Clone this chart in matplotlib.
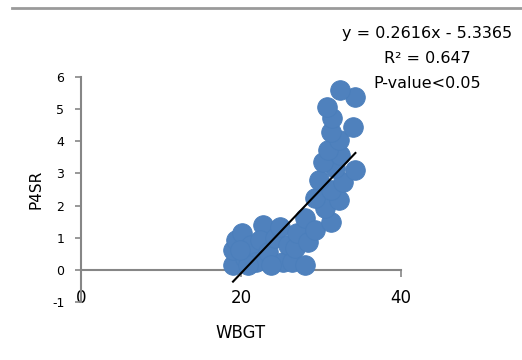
import numpy as np
import matplotlib
matplotlib.use("Agg")
import matplotlib.pyplot as plt
from matplotlib.lines import Line2D

plt.rcParams["axes.unicode_minus"] = False

# WBGT vs P4SR points
wbgt = [19.0, 19.0, 19.4, 20.1, 20.5, 21.2, 21.9, 22.8, 22.4, 23.4,
        24.3, 24.9, 25.2, 25.9, 26.4, 23.7, 20.9, 19.9,
        26.8, 28.0, 27.0, 28.4, 28.0, 29.3, 31.2, 30.5, 32.2, 29.3,
        31.2, 32.7, 29.7, 34.3, 31.8, 30.2, 32.4, 30.9, 32.2, 31.2,
        34.0, 31.4, 30.8, 34.3, 32.4]
p4sr = [0.16, 0.62, 0.93, 1.15, 0.37, 0.78, 0.25, 1.40, 0.93, 0.56,
        0.99, 1.34, 0.25, 0.78, 0.25, 0.16, 0.16, 0.62,
        0.68, 0.16, 1.15, 0.87, 1.61, 1.24, 1.49, 1.93, 2.17, 2.24,
        2.48, 2.73, 2.80, 3.11, 3.17, 3.35, 3.57, 3.73, 4.04, 4.29,
        4.44, 4.72, 5.06, 5.37, 5.59]

slope = 0.2616
intercept = -5.3365
eq_text = "y = 0.2616x - 5.3365\nR² = 0.647\nP-value<0.05"

blue = "#4F81BD"
grey = "#868686"

fig = plt.figure(figsize=(5.22, 3.6), dpi=100)
ax = fig.add_axes([0.1552, 0.1611, 0.613, 0.625])

ax.scatter(wbgt, p4sr, s=200, color=blue, edgecolors="#4A7EBB", linewidths=0.6,
           zorder=3)

# linear trend line over data range
xs = np.array([min(wbgt), max(wbgt)])
ax.plot(xs, slope * xs + intercept, color="black", lw=1.5, zorder=4)

ax.set_xlim(0, 40)
ax.set_ylim(-1, 6)
ax.set_xticks([0, 20, 40])
ax.set_yticks(range(-1, 7))

for s in ["top", "right"]:
    ax.spines[s].set_visible(False)
ax.spines["bottom"].set_position(("data", 0))
ax.spines["bottom"].set_color(grey)
ax.spines["left"].set_color(grey)
ax.spines["bottom"].set_linewidth(1.5)
ax.spines["left"].set_linewidth(1.5)
ax.spines["bottom"].set_zorder(2)

ax.tick_params(axis="y", direction="out", length=4, width=1.2, color=grey,
               labelsize=9, pad=8)
ax.tick_params(axis="x", direction="out", length=5, width=1.2, color=grey,
               labelsize=12, pad=9)

ax.set_xlabel("WBGT", fontsize=12, labelpad=12)
ax.set_ylabel("P4SR", fontsize=11, labelpad=6)

fig.text(0.818, 0.928, eq_text, ha="center", va="top", fontsize=11.5,
         linespacing=1.85)

# grey rule across the top of the picture
fig.add_artist(Line2D([0.023, 1.0], [0.978, 0.978], color="#9a9a9a", lw=2))

plt.savefig("out.png", dpi=100)
